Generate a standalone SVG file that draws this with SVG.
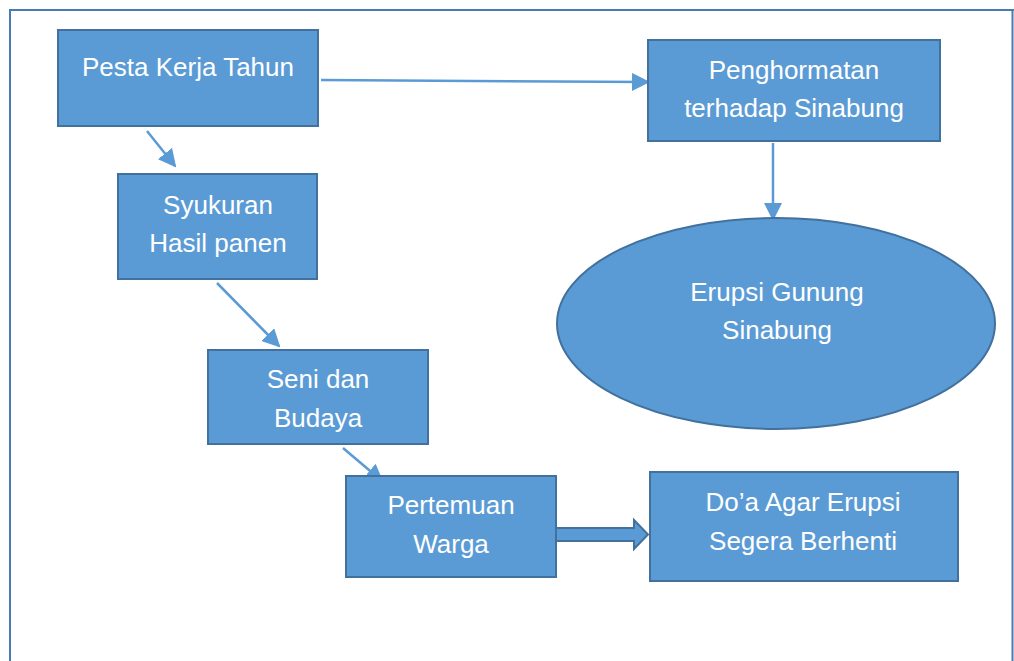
<svg xmlns="http://www.w3.org/2000/svg" width="1014" height="661" viewBox="0 0 1014 661">
<style>
.box{fill:#5B9BD5;stroke:#41719C;stroke-width:2}
.lbl{font-family:"Liberation Sans",Arial,sans-serif;font-size:26px;fill:#ffffff;text-anchor:middle}
.conn{stroke:#5B9BD5;stroke-width:2.5;fill:none}
.frame{stroke:#4A7AB0;stroke-width:2;fill:none}
</style>
<defs>
<marker id="ahL" markerWidth="18" markerHeight="18" refX="16" refY="9" orient="auto" markerUnits="userSpaceOnUse" viewBox="0 0 18 18">
<path d="M0,0 L18,9 L0,18 Z" fill="#5B9BD5"/>
</marker>
</defs>
<g id="frame">
<path class="frame" d="M10,661 L10,10 L1014,10"/>
<line class="frame" x1="1012.5" y1="10" x2="1012.5" y2="661" stroke-width="1.5"/>
</g>
<g id="connectors">
<line class="conn" x1="321" y1="80" x2="648" y2="82" marker-end="url(#ahL)"/>
<line class="conn" x1="773" y1="143" x2="773" y2="219" marker-end="url(#ahL)"/>
<line class="conn" x1="147" y1="131" x2="175" y2="166" marker-end="url(#ahL)"/>
<line class="conn" x1="217" y1="283" x2="279" y2="346" marker-end="url(#ahL)"/>
<line class="conn" x1="343" y1="448" x2="382" y2="481" marker-end="url(#ahL)"/>
<path d="M553,528 L634,528 L634,520 L648,534.5 L634,549 L634,541 L553,541 Z" fill="#5B9BD5" stroke="#41719C" stroke-width="2"/>
</g>
<g id="n-pesta">
<rect class="box" x="58" y="30" width="260" height="96"/>
<text class="lbl" x="188" y="76">Pesta Kerja Tahun</text>
</g>
<g id="n-penghormatan">
<rect class="box" x="648" y="40" width="292" height="101"/>
<text class="lbl" x="794" y="79">Penghormatan</text>
<text class="lbl" x="794" y="117">terhadap Sinabung</text>
</g>
<g id="n-erupsi">
<ellipse class="box" cx="776" cy="323.5" rx="219" ry="105.5"/>
<text class="lbl" x="777" y="301">Erupsi Gunung</text>
<text class="lbl" x="777" y="339">Sinabung</text>
</g>
<g id="n-syukuran">
<rect class="box" x="118" y="174" width="199" height="105"/>
<text class="lbl" x="218" y="214">Syukuran</text>
<text class="lbl" x="218" y="252">Hasil panen</text>
</g>
<g id="n-seni">
<rect class="box" x="208" y="350" width="220" height="94"/>
<text class="lbl" x="318" y="388">Seni dan</text>
<text class="lbl" x="318" y="427">Budaya</text>
</g>
<g id="n-pertemuan">
<rect class="box" x="346" y="476" width="210" height="101"/>
<text class="lbl" x="451" y="514">Pertemuan</text>
<text class="lbl" x="451" y="553">Warga</text>
</g>
<g id="n-doa">
<rect class="box" x="650" y="472" width="308" height="109"/>
<text class="lbl" x="803" y="511">Do’a Agar Erupsi</text>
<text class="lbl" x="803" y="550">Segera Berhenti</text>
</g>
</svg>
